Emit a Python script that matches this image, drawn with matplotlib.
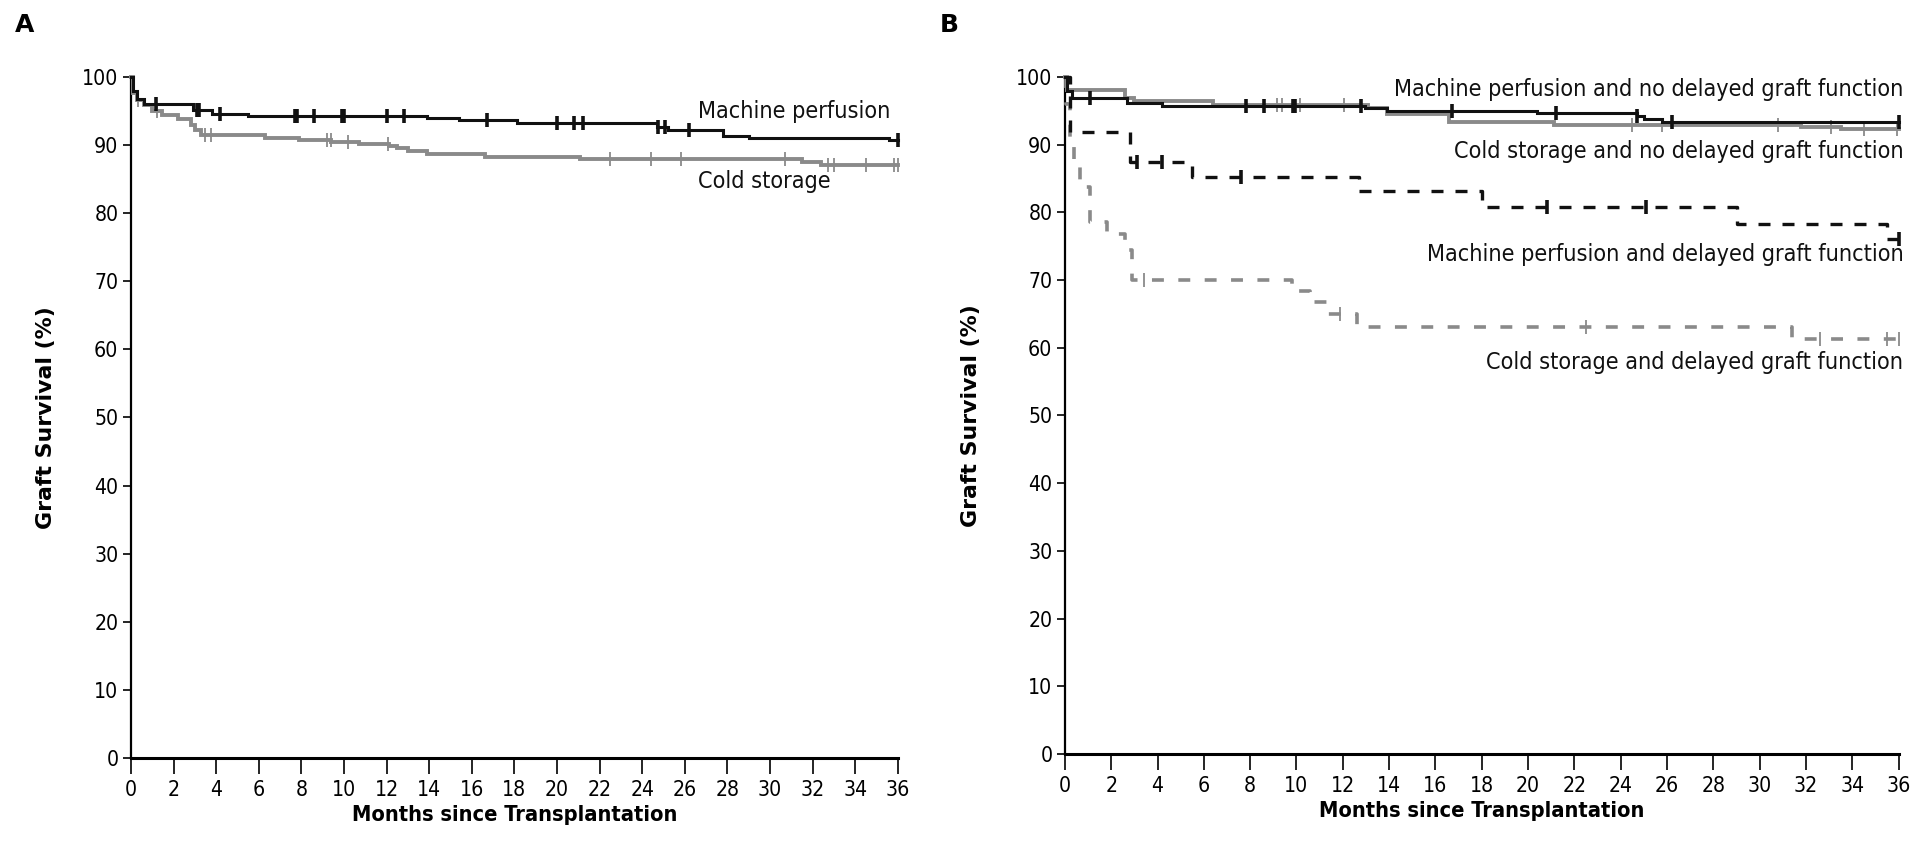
import numpy as np
import matplotlib
matplotlib.use('Agg')
import matplotlib.pyplot as plt
from matplotlib import font_manager as fm

# ---------------- data ----------------
month_ticks = list(range(0, 37, 2))
surv_ticks = list(range(0, 101, 10))

# Panel A
a_mp_t = [0, 0.1, 0.3, 0.6, 2.9, 3.8, 5.5, 13.9, 15.4, 18.1, 24.7, 25.2, 27.8, 29.0, 35.6]
a_mp_s = [100, 98.0, 96.8, 96.0, 95.2, 94.6, 94.3, 94.0, 93.7, 93.2, 92.7, 92.2, 91.4, 91.0, 90.7]
a_mp_c = [1.16, 3.08, 3.19, 4.18, 7.7, 7.8, 8.6, 9.9, 10.0, 12.0, 12.8, 16.7, 20.0, 20.8,
          21.2, 24.75, 25.07, 26.2, 36.0]

a_cs_t = [0, 0.08, 0.3, 0.6, 1.0, 1.45, 2.2, 2.8, 3.0, 3.3, 6.3, 7.9, 9.4, 10.7, 12.1,
          12.5, 13.0, 13.9, 16.6, 21.1, 31.5, 32.4]
a_cs_s = [100, 97.6, 96.6, 95.9, 95.0, 94.4, 93.8, 92.9, 92.2, 91.5, 91.1, 90.8, 90.5, 90.2,
          89.9, 89.6, 89.2, 88.7, 88.3, 88.0, 87.5, 87.1]
a_cs_c = [0.33, 1.2, 3.47, 3.75, 9.19, 9.37, 10.2, 12.07, 22.5, 24.4, 25.8, 30.7, 32.7,
          33.0, 34.5, 35.8, 36.0]

# Panel B
b_mp_nd_t = [0, 0.1, 0.3, 2.7, 4.2, 12.95, 13.9, 20.4, 24.7, 25.0, 25.8]
b_mp_nd_s = [100, 98.0, 96.9, 96.2, 95.7, 95.4, 95.0, 94.7, 94.2, 93.8, 93.4]
b_mp_nd_c = [1.08, 7.8, 8.6, 9.85, 9.95, 12.8, 16.7, 21.2, 24.7, 26.2, 36.0]

b_cs_nd_t = [0, 0.1, 2.6, 3.0, 6.4, 13.1, 13.9, 16.6, 21.1, 31.8, 33.5]
b_cs_nd_s = [100, 98.1, 96.9, 96.4, 95.9, 95.4, 94.5, 93.4, 92.9, 92.6, 92.3]
b_cs_nd_c = [9.15, 9.37, 10.15, 12.05, 24.5, 25.8, 30.8, 33.1, 34.5, 35.95]

b_mp_d_t = [0, 0.2, 2.8, 5.5, 12.7, 18.0, 29.0, 35.5]
b_mp_d_s = [100, 91.8, 87.5, 85.3, 83.1, 80.8, 78.3, 76.0]
b_mp_d_c = [3.1, 4.2, 7.6, 20.8, 25.1, 36.0]

b_cs_d_t = [0, 0.05, 0.2, 0.4, 0.66, 1.1, 1.8, 2.6, 2.9, 9.8, 10.6, 11.35, 12.6, 31.4]
b_cs_d_s = [100, 96, 91, 87, 83.7, 78.6, 76.8, 74.5, 70.0, 68.4, 66.7, 65.0, 63.1, 61.3]
b_cs_d_c = [3.4, 11.9, 22.5, 32.6, 35.5, 36.0]

label_mp = "Machine perfusion"
label_cs = "Cold storage"
label_b = ["Machine perfusion and no delayed graft function",
           "Cold storage and no delayed graft function",
           "Machine perfusion and delayed graft function",
           "Cold storage and delayed graft function"]
label_b_y = [98.2, 89.0, 73.8, 57.9]

# ---------------- style ----------------
flist = fm.fontManager.ttflist
names = {f.name for f in flist}
has_cond = any(f.name == 'DejaVu Sans' and str(f.stretch) in ('condensed', 'semi-condensed')
               for f in flist)
if 'Liberation Sans Narrow' in names:
    narrow, stretch, scale = 'Liberation Sans Narrow', 'normal', 1.0
elif has_cond:
    narrow, stretch, scale = 'DejaVu Sans', 'condensed', 0.92
else:
    narrow, stretch, scale = 'Lato', 'normal', 0.98
plt.rcParams['font.family'] = [narrow, 'DejaVu Sans']
plt.rcParams['font.stretch'] = stretch

BLACK = '#111111'
GREY = '#8a8a8a'
TICK_FS = 16.5 * scale
TEXT_FS = 18.2 * scale
XLAB_FS = 17 * scale

fig = plt.figure(figsize=(19.26, 8.63), dpi=100)
axA = fig.add_axes([0.0680, 0.1217, 0.3982, 0.7891])
axB = fig.add_axes([0.5529, 0.1263, 0.4329, 0.7845])


def km_at(t, times, vals):
    idx = np.searchsorted(np.asarray(times), t, side='right') - 1
    return np.asarray(vals)[idx]


def draw_curve(ax, times, vals, cens, color, lw, ls, cmew, z):
    tt = list(times) + [36.0]
    vv = list(vals) + [vals[-1]]
    ax.step(tt, vv, where='post', color=color, lw=lw, ls=ls, clip_on=False,
            zorder=z, solid_joinstyle='miter', dash_capstyle='butt')
    cy = km_at(np.asarray(cens), times, vals)
    ax.plot(cens, cy, ls='none', marker='|', ms=10, mew=cmew, color=color,
            clip_on=False, zorder=z + 0.1)


def style_axes(ax, ypad):
    ax.set_xlim(0, 36)
    ax.set_ylim(0, 100)
    for s in ['top', 'right']:
        ax.spines[s].set_visible(False)
    ax.spines['left'].set_linewidth(1.6)
    ax.spines['bottom'].set_linewidth(2.2)
    ax.spines['left'].set_bounds(0, 100)
    ax.spines['bottom'].set_bounds(0, 36)
    ax.set_xticks(month_ticks)
    ax.set_yticks(surv_ticks)
    ax.tick_params(axis='x', direction='out', length=11.5, width=1.2, pad=4,
                   labelsize=TICK_FS)
    ax.tick_params(axis='y', direction='out', length=6, width=1.2, pad=3,
                   labelsize=TICK_FS)
    ax.set_xlabel("Months since Transplantation", fontsize=XLAB_FS,
                  fontweight='bold', labelpad=4)
    ax.set_ylabel("Graft Survival (%)", fontsize=15.8, fontweight='bold',
                  family=['DejaVu Sans'], fontstretch='normal', labelpad=ypad)


dash_mp = (0, (3.6, 3.6))
dash_cs = (0, (3.3, 4.0))

# Panel A
style_axes(axA, 19)
draw_curve(axA, a_cs_t, a_cs_s, a_cs_c, GREY, 2.8, '-', 1.3, 3)
draw_curve(axA, a_mp_t, a_mp_s, a_mp_c, BLACK, 2.2, '-', 2.6, 4)
axA.text(26.6, 95.0, label_mp, fontsize=TEXT_FS, ha='left', va='center', color=BLACK)
axA.text(26.6, 84.6, label_cs, fontsize=TEXT_FS, ha='left', va='center', color=BLACK)

# Panel B
style_axes(axB, 25)
draw_curve(axB, b_cs_d_t, b_cs_d_s, b_cs_d_c, GREY, 2.6, dash_cs, 1.3, 3)
draw_curve(axB, b_mp_d_t, b_mp_d_s, b_mp_d_c, BLACK, 2.4, dash_mp, 2.6, 4)
draw_curve(axB, b_cs_nd_t, b_cs_nd_s, b_cs_nd_c, GREY, 2.8, '-', 1.3, 5)
draw_curve(axB, b_mp_nd_t, b_mp_nd_s, b_mp_nd_c, BLACK, 2.2, '-', 2.6, 6)
for txt, yv in zip(label_b, label_b_y):
    axB.text(36.2, yv, txt, fontsize=TEXT_FS, ha='right', va='center', color=BLACK,
             zorder=2)

fig.text(25 / 1926, 1 - 25 / 863, "A", fontsize=18, fontweight='bold',
         family=['DejaVu Sans'], fontstretch='normal', ha='center', va='center')
fig.text(949 / 1926, 1 - 25 / 863, "B", fontsize=18, fontweight='bold',
         family=['DejaVu Sans'], fontstretch='normal', ha='center', va='center')

fig.savefig('out.png', dpi=100)
